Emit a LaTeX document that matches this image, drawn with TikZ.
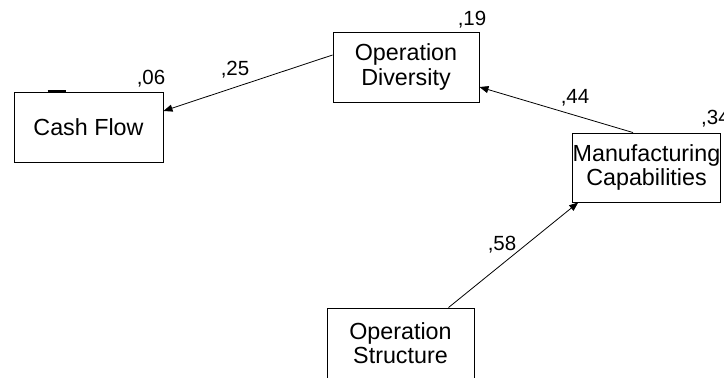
\documentclass[tikz,border=0pt]{standalone}
\usepackage{fontspec}
\setmainfont{Liberation Sans}
\usetikzlibrary{arrows.meta}
\begin{document}
\begin{tikzpicture}[x=1pt,y=-1pt,
  box/.style={draw,line width=0.9pt,rectangle,inner sep=0pt,align=center,
    font=\fontsize{23.3}{24.5}\selectfont},
  coef/.style={inner sep=0pt,font=\fontsize{20.5}{22}\selectfont},
  link/.style={line width=0.8pt,-{Triangle[length=9pt,width=7pt]}}]
\useasboundingbox (0,0) rectangle (724,378);
\node[box,minimum width=149pt,minimum height=70pt] (CF) at (88.5,127) {Cash Flow};
\node[box,minimum width=146pt,minimum height=70pt] (OD) at (406,67) {Operation\\Diversity};
\node[box,minimum width=143pt,minimum height=69pt] (MC) at (646.5,167.5) {Manufacturing\\Capabilities};
\node[box,minimum width=147pt,minimum height=70pt] (OS) at (400.5,343) {Operation\\Structure};
\draw[line width=2.5pt] ([xshift=34pt]CF.north west) -- ++(18,0);
\node[coef] (l06) at (151,79) {,06};
\node[coef] (l19) at (472,20) {,19};
\node[coef,anchor=west] (l34) at (701,119) {,34};
\node[coef] (l25) at (235,70) {,25};
\node[coef] (l44) at (575,98) {,44};
\node[coef] (l58) at (502,245) {,58};
\draw[link] ([yshift=12pt]OD.west) -- ([yshift=16pt]CF.east);
\draw[link] ([xshift=-13.5pt]MC.north) -- ([yshift=-20pt]OD.east);
\draw[link] ([xshift=48pt]OS.north) -- ([xshift=6pt]MC.south west);
\end{tikzpicture}
\end{document}
